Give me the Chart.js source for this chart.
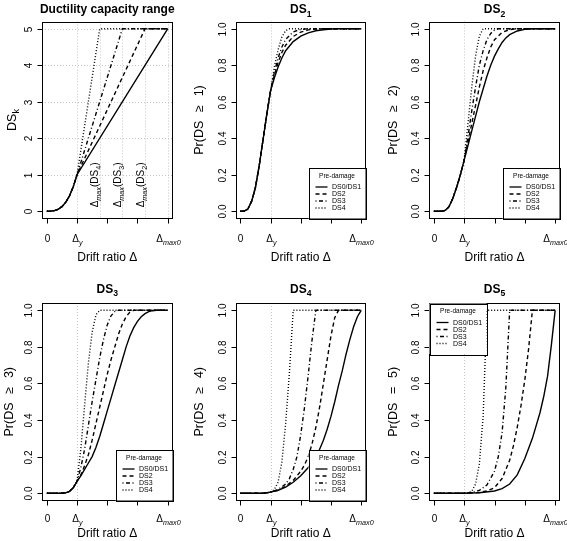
<!DOCTYPE html>
<html>
<head>
<meta charset="utf-8">
<script src="https://cdn.jsdelivr.net/npm/chart.js"></script>
<style>
body { margin: 0; background: #fff; }
#wrap { position: relative; width: 567px; height: 541px; }
#wrap canvas { position: absolute; left: 0; top: 0; }
</style>
</head>
<body>
<div id="wrap"></div>
<script>
const W = 567, H = 541;
const FONT = '"Liberation Sans", Arial, Helvetica, sans-serif';

// drift ratio axis, in units of the yield drift (0, Δy, ..., Δmax0)
const driftTicks = [0, 1, 2, 3, 4];
const driftTickLabels = [[['0', '']], [['Δ', ''], ['y', 'si']], [], [], [['Δ', ''], ['max0', 'si']]];
const probTicks = [0, 0.2, 0.4, 0.6, 0.8, 1.0];
const probTickLabels = ['0.0', '0.2', '0.4', '0.6', '0.8', '1.0'];
const dsTicks = [0, 1, 2, 3, 4, 5];
const dsTickLabels = ['0', '1', '2', '3', '4', '5'];

const seriesNames = ['DS0/DS1', 'DS2', 'DS3', 'DS4'];
const dashes = [[], [4, 3], [1, 2.5, 4, 2.5], [1, 2]];

// ductility capacity range: DS_k vs drift
const cap_base = [[0,0],[0.125,0.002],[0.25,0.016],[0.375,0.053],[0.5,0.125],[0.625,0.244],[0.75,0.42],[0.875,0.67],[1,1]];
const cap_ds01 = [[4,5]];
const cap_ds2 = [[3.25,5],[4,5]];
const cap_ds3 = [[2.5,5],[4,5]];
const cap_ds4 = [[1.75,5],[4,5]];
const capGridX = [1, 1.75, 2.5, 3.25, 4];
const capGridY = [1, 2, 3, 4, 5];

// Pr(DS >= 1)
const ds1_base = [[0,0],[0.125,0.001],[0.25,0.012],[0.375,0.055],[0.5,0.13],[0.625,0.25],[0.75,0.39],[0.875,0.53],[1,0.66]];
const ds1_ds01 = [[1.125,0.73],[1.25,0.79],[1.375,0.84],[1.5,0.88],[1.75,0.93],[2,0.96],[2.25,0.978],[2.5,0.989],[2.75,0.995],[3,0.999],[3.25,1],[4,1]];
const ds1_ds2 = [[1.125,0.745],[1.25,0.815],[1.375,0.87],[1.5,0.91],[1.75,0.958],[2,0.982],[2.25,0.994],[2.5,0.999],[2.75,1],[4,1]];
const ds1_ds3 = [[1.125,0.76],[1.25,0.84],[1.375,0.9],[1.5,0.942],[1.75,0.983],[2,0.997],[2.25,1],[4,1]];
const ds1_ds4 = [[1.125,0.79],[1.25,0.885],[1.375,0.955],[1.5,0.99],[1.625,1],[4,1]];

// Pr(DS >= 2)
const ds2_base = [[0,0],[0.25,0],[0.375,0.004],[0.5,0.025],[0.625,0.07],[0.75,0.13],[0.875,0.2],[1,0.28]];
const ds2_ds01 = [[1.125,0.36],[1.25,0.44],[1.375,0.52],[1.5,0.6],[1.625,0.67],[1.75,0.74],[1.875,0.8],[2,0.85],[2.125,0.89],[2.25,0.925],[2.375,0.95],[2.5,0.968],[2.75,0.988],[3,0.997],[3.25,1],[4,1]];
const ds2_ds2 = [[1.125,0.38],[1.25,0.48],[1.375,0.58],[1.5,0.68],[1.625,0.77],[1.75,0.84],[1.875,0.9],[2,0.94],[2.25,0.98],[2.5,0.996],[2.75,1],[4,1]];
const ds2_ds3 = [[1.125,0.41],[1.25,0.55],[1.375,0.68],[1.5,0.8],[1.625,0.88],[1.75,0.94],[1.875,0.975],[2,0.993],[2.125,1],[4,1]];
const ds2_ds4 = [[1.125,0.48],[1.25,0.68],[1.375,0.85],[1.5,0.96],[1.625,1],[4,1]];

// Pr(DS >= 3)
const ds3_base = [[0,0],[0.5,0],[0.625,0.002],[0.75,0.01],[0.875,0.03],[1,0.065]];
const ds3_ds01 = [[1.125,0.095],[1.25,0.13],[1.375,0.165],[1.5,0.2],[1.625,0.25],[1.75,0.31],[1.875,0.38],[2,0.45],[2.125,0.52],[2.25,0.59],[2.375,0.66],[2.5,0.73],[2.625,0.8],[2.75,0.86],[2.875,0.905],[3,0.94],[3.125,0.965],[3.25,0.982],[3.375,0.993],[3.5,0.998],[3.625,1],[4,1]];
const ds3_ds2 = [[1.125,0.1],[1.25,0.15],[1.375,0.21],[1.5,0.29],[1.625,0.38],[1.75,0.47],[1.875,0.56],[2,0.65],[2.125,0.73],[2.25,0.8],[2.375,0.87],[2.5,0.925],[2.625,0.965],[2.75,0.99],[2.875,1],[4,1]];
const ds3_ds3 = [[1.125,0.14],[1.25,0.24],[1.375,0.37],[1.5,0.5],[1.625,0.62],[1.75,0.74],[1.875,0.84],[2,0.92],[2.125,0.97],[2.25,0.993],[2.375,1],[4,1]];
const ds3_ds4 = [[1.125,0.24],[1.25,0.48],[1.375,0.71],[1.5,0.88],[1.625,0.975],[1.75,1],[4,1]];

// Pr(DS >= 4)
const ds4_base = [[0,0],[0.75,0],[0.875,0.002],[1,0.006]];
const ds4_ds01 = [[1.25,0.015],[1.5,0.033],[1.75,0.06],[2,0.095],[2.25,0.14],[2.5,0.2],[2.625,0.24],[2.75,0.29],[2.875,0.35],[3,0.42],[3.125,0.5],[3.25,0.59],[3.375,0.67],[3.5,0.76],[3.625,0.84],[3.75,0.91],[3.875,0.965],[4,1]];
const ds4_ds2 = [[1.25,0.016],[1.5,0.038],[1.75,0.07],[2,0.12],[2.125,0.155],[2.25,0.2],[2.375,0.27],[2.5,0.36],[2.625,0.47],[2.75,0.6],[2.875,0.73],[3,0.86],[3.125,0.96],[3.25,1],[4,1]];
const ds4_ds3 = [[1.25,0.02],[1.5,0.05],[1.625,0.08],[1.75,0.13],[1.875,0.2],[2,0.32],[2.125,0.47],[2.25,0.65],[2.375,0.84],[2.5,1],[4,1]];
const ds4_ds4 = [[1.125,0.02],[1.25,0.06],[1.375,0.17],[1.5,0.38],[1.625,0.66],[1.75,1],[4,1]];

// Pr(DS = 5)
const ds5_base = [[0,0],[1,0]];
const ds5_ds01 = [[1.5,0.002],[2,0.012],[2.25,0.025],[2.5,0.05],[2.75,0.1],[3,0.19],[3.25,0.3],[3.5,0.44],[3.625,0.53],[3.75,0.64],[3.875,0.81],[4,1]];
const ds5_ds2 = [[1.5,0.004],[1.75,0.012],[2,0.03],[2.25,0.08],[2.5,0.18],[2.625,0.26],[2.75,0.36],[2.875,0.48],[3,0.62],[3.125,0.79],[3.25,1],[4,1]];
const ds5_ds3 = [[1.25,0.004],[1.5,0.015],[1.75,0.045],[2,0.12],[2.125,0.2],[2.25,0.33],[2.375,0.58],[2.5,1],[4,1]];
const ds5_ds4 = [[1.125,0.002],[1.25,0.01],[1.375,0.05],[1.5,0.16],[1.625,0.42],[1.75,1],[4,1]];

const topRow = { t: 21.5, b: 218.5, titleY: 9, tickY: 238.5, xlabY: 256.5 };
const botRow = { t: 303, b: 500.5, titleY: 288.5, tickY: 518, xlabY: 532.5 };
const cols = [{ l: 42, r: 172.5 }, { l: 235.5, r: 366 }, { l: 429, r: 560 }];

const GAP = '\u2002\u2009';
const probPanel = (n, rel) => ({
  ymin: -0.04, ymax: 1.04, yticks: probTicks, ytickLabels: probTickLabels,
  title: [['DS', ''], [String(n), 's']],
  ylab: [['Pr(DS' + GAP + rel + GAP + n + ')', '']],
  gridX: [1], gridY: []
});

const panels = [
  Object.assign({ row: topRow, col: cols[0], ylabX: 11,
    ymin: -0.2, ymax: 5.2, yticks: dsTicks, ytickLabels: dsTickLabels,
    title: [['Ductility capacity range', '']], ylab: [['DS', ''], ['k', 's']],
    gridX: capGridX, gridY: capGridY, legend: null,
    notes: [[1.75, 0.72, '4'], [2.5, 0.72, '3'], [3.25, 0.72, '2']],
    series: [cap_base.concat(cap_ds01), cap_base.concat(cap_ds2), cap_base.concat(cap_ds3), cap_base.concat(cap_ds4)] }),
  Object.assign(probPanel(1, '≥'), { row: topRow, col: cols[1], ylabX: 198.5, legend: 'br',
    series: [ds1_base.concat(ds1_ds01), ds1_base.concat(ds1_ds2), ds1_base.concat(ds1_ds3), ds1_base.concat(ds1_ds4)] }),
  Object.assign(probPanel(2, '≥'), { row: topRow, col: cols[2], ylabX: 392, legend: 'br',
    series: [ds2_base.concat(ds2_ds01), ds2_base.concat(ds2_ds2), ds2_base.concat(ds2_ds3), ds2_base.concat(ds2_ds4)] }),
  Object.assign(probPanel(3, '≥'), { row: botRow, col: cols[0], ylabX: 8, legend: 'br',
    series: [ds3_base.concat(ds3_ds01), ds3_base.concat(ds3_ds2), ds3_base.concat(ds3_ds3), ds3_base.concat(ds3_ds4)] }),
  Object.assign(probPanel(4, '≥'), { row: botRow, col: cols[1], ylabX: 198.5, legend: 'br',
    series: [ds4_base.concat(ds4_ds01), ds4_base.concat(ds4_ds2), ds4_base.concat(ds4_ds3), ds4_base.concat(ds4_ds4)] }),
  Object.assign(probPanel(5, '='), { row: botRow, col: cols[2], ylabX: 392, legend: 'tl',
    series: [ds5_base.concat(ds5_ds01), ds5_base.concat(ds5_ds2), ds5_base.concat(ds5_ds3), ds5_base.concat(ds5_ds4)] })
];

// draws text made of pieces, 's' = subscript, 'si' = italic subscript
function drawRich(ctx, parts, size, cx, cy, rot, weight) {
  ctx.save();
  ctx.translate(cx, cy);
  if (rot) ctx.rotate(-Math.PI / 2);
  const items = parts.map(([t, k]) => {
    const sub = k.indexOf('s') === 0;
    const s = sub ? size * 0.72 : size;
    const font = (k === 'si' ? 'italic ' : '') + (weight || 'normal') + ' ' + s + 'px ' + FONT;
    ctx.font = font;
    return { t, font, w: ctx.measureText(t).width, dy: sub ? size * 0.3 : 0 };
  });
  const total = items.reduce((a, it) => a + it.w, 0);
  let xx = -total / 2;
  ctx.fillStyle = '#000';
  ctx.textAlign = 'left';
  ctx.textBaseline = 'alphabetic';
  items.forEach(it => {
    ctx.font = it.font;
    ctx.fillText(it.t, xx, size * 0.36 + it.dy);
    xx += it.w;
  });
  ctx.restore();
}

function seg(ctx, x1, y1, x2, y2) {
  ctx.beginPath(); ctx.moveTo(x1, y1); ctx.lineTo(x2, y2); ctx.stroke();
}

function panelPlugin(p) {
  return {
    id: 'rstyle',
    beforeDatasetsDraw(chart) {
      const { ctx, chartArea: a, scales: { x, y } } = chart;
      ctx.save();
      ctx.strokeStyle = '#c4c4c4';
      ctx.lineWidth = 1;
      ctx.setLineDash([1, 2]);
      p.gridX.forEach(v => {
        const px = Math.round(x.getPixelForValue(v)) + 0.5;
        seg(ctx, px, a.top, px, a.bottom);
      });
      p.gridY.forEach(v => {
        const py = Math.round(y.getPixelForValue(v)) + 0.5;
        seg(ctx, a.left, py, a.right, py);
      });
      ctx.restore();
    },
    afterDraw(chart) {
      const { ctx, chartArea: a, scales: { x, y } } = chart;
      ctx.save();
      ctx.strokeStyle = '#000';
      ctx.lineWidth = 1;
      const L = Math.round(a.left) + 0.5, R = Math.round(a.right) - 0.5;
      const T = Math.round(a.top) + 0.5, B = Math.round(a.bottom) - 0.5;
      ctx.strokeRect(L, T, R - L, B - T);

      // x axis
      driftTicks.forEach((v, i) => {
        const px = Math.round(x.getPixelForValue(v)) + 0.5;
        seg(ctx, px, B, px, B + 5);
        if (driftTickLabels[i].length) drawRich(ctx, driftTickLabels[i], 10, px, p.row.tickY, false);
      });
      // y axis
      p.yticks.forEach((v, i) => {
        const py = Math.round(y.getPixelForValue(v)) + 0.5;
        seg(ctx, L, py, L - 5, py);
        drawRich(ctx, [[p.ytickLabels[i], '']], 10, L - 14.5, py, true);
      });

      drawRich(ctx, p.title, 12, (a.left + a.right) / 2, p.row.titleY, false, 'bold');
      drawRich(ctx, [['Drift ratio Δ', '']], 12, (a.left + a.right) / 2, p.row.xlabY, false);
      drawRich(ctx, p.ylab, 12.5, p.ylabX, (a.top + a.bottom) / 2, true);

      (p.notes || []).forEach(([xv, yv, k]) => {
        drawRich(ctx, [['Δ', ''], ['max', 'si'], ['(DS', ''], [k, 's'], [')', '']], 10,
          x.getPixelForValue(xv) - 5, y.getPixelForValue(yv), true);
      });

      if (p.legend) {
        const lw = 57, lh = 50.5;
        const lx = p.legend === 'br' ? R - lw : L;
        const ly = p.legend === 'br' ? B - lh : T;
        ctx.fillStyle = '#fff';
        ctx.fillRect(lx, ly, lw, lh);
        ctx.strokeRect(Math.round(lx) + 0.5, Math.round(ly) + 0.5, Math.round(lw), Math.round(lh));
        drawRich(ctx, [['Pre-damage', '']], 6.5, lx + lw / 2, ly + 7.5, false);
        seriesNames.forEach((name, k) => {
          const yy = ly + 19 + k * 7;
          ctx.save();
          ctx.lineWidth = 1.3;
          ctx.setLineDash(dashes[k]);
          seg(ctx, lx + 7, yy, lx + 19, yy);
          ctx.restore();
          ctx.font = '7px ' + FONT;
          ctx.fillStyle = '#000';
          ctx.textAlign = 'left';
          ctx.textBaseline = 'middle';
          ctx.fillText(name, lx + 23.5, yy + 0.5);
        });
      }
      ctx.restore();
    }
  };
}

const wrap = document.getElementById('wrap');
panels.forEach(p => {
  const cv = document.createElement('canvas');
  cv.width = W; cv.height = H;
  wrap.appendChild(cv);
  new Chart(cv, {
    type: 'line',
    data: {
      datasets: p.series.map((pts, k) => ({
        label: seriesNames[k],
        data: pts.map(q => ({ x: q[0], y: q[1] })),
        borderColor: '#000',
        borderWidth: 1.4,
        borderDash: dashes[k],
        pointRadius: 0,
        tension: 0,
        fill: false
      })).reverse()
    },
    options: {
      responsive: false,
      animation: false,
      events: [],
      layout: { padding: { left: p.col.l, top: p.row.t, right: W - p.col.r, bottom: H - p.row.b } },
      scales: {
        x: { type: 'linear', min: -0.16, max: 4.16, display: false },
        y: { type: 'linear', min: p.ymin, max: p.ymax, display: false }
      },
      plugins: { legend: { display: false }, tooltip: { enabled: false } }
    },
    plugins: [panelPlugin(p)]
  });
});
</script>
</body>
</html>
